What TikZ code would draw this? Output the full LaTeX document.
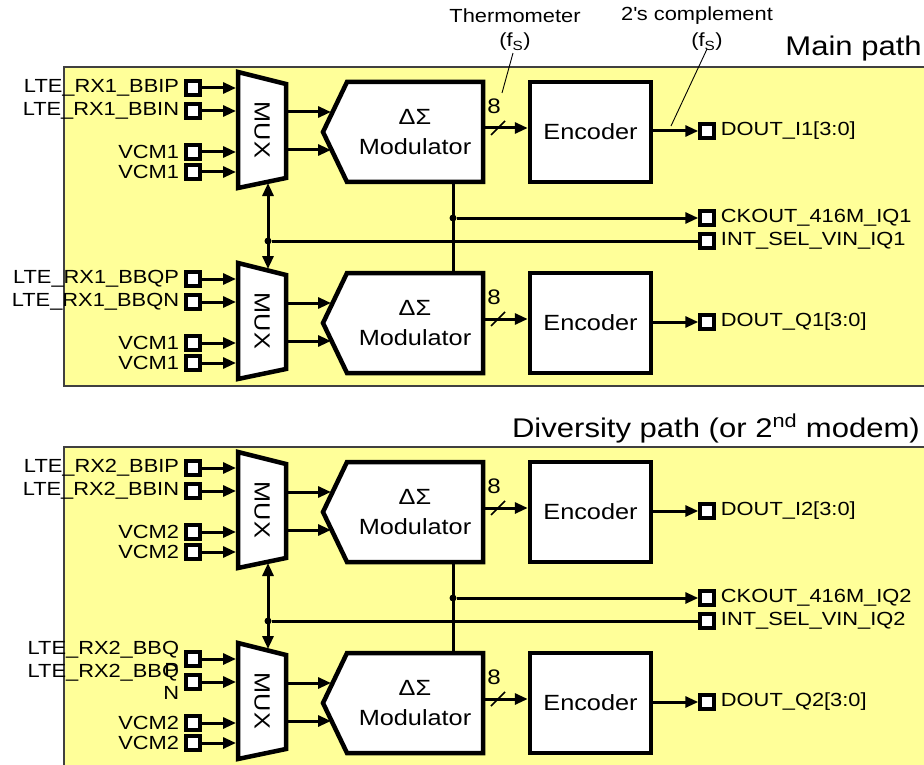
\documentclass[tikz,border=0pt]{standalone}
\usepackage{fontspec}
\setmainfont[FakeStretch=1.15]{Liberation Sans}
\usetikzlibrary{arrows.meta}
\definecolor{panelyellow}{HTML}{FFFF99}
\definecolor{panelborder}{HTML}{404040}
\newcommand{\pinfont}{\fontsize{19}{22}\selectfont}
\newcommand{\blockfont}{\fontsize{22}{30}\selectfont}
\newcommand{\titlefont}{\fontsize{27}{32}\selectfont}
\tikzset{
  pin/.style={rectangle, draw=black, fill=white, line width=4pt, minimum size=13.5pt, inner sep=0pt},
  lbl/.style={font=\pinfont, inner sep=0pt, align=right},
  lblr/.style={font=\pinfont, inner sep=0pt, align=left},
  conn/.style={line width=3pt},
  arr/.style={-{Triangle[length=13pt,width=11pt]}},
  darr/.style={{Triangle[length=13pt,width=11pt]}-{Triangle[length=13pt,width=11pt]}},
  blk/.style={draw=black, fill=white, line width=4.5pt, line join=miter},
  panel/.style={fill=panelyellow, draw=panelborder, line width=1.2pt},
  dot/.style={circle, fill=black, inner sep=0pt, minimum size=7pt},
  leader/.style={line width=0.9pt},
  busslash/.style={line width=1.6pt}
}
% #1 offset, #2 prefix, #3-#6 input labels, #7 output label
\newcommand{\adcgroup}[7]{%
\begin{scope}[shift={(0,#1)}]
  \node[pin] (#2pa) at (193,88) {};
  \node[pin] (#2pb) at (193,111) {};
  \node[pin] (#2pc) at (193,152) {};
  \node[pin] (#2pd) at (193,172) {};
  \node[lbl,anchor=east] (#2la) at ([xshift=-5pt]#2pa.west) {#3};
  \node[lbl,anchor=east] (#2lb) at ([xshift=-5pt]#2pb.west) {#4};
  \node[lbl,anchor=east] (#2lc) at ([xshift=-5pt]#2pc.west) {#5};
  \node[lbl,anchor=east] (#2ld) at ([xshift=-5pt]#2pd.west) {#6};
  \draw[blk] (238,72) -- (286,84) -- (286,178) -- (238,188) -- cycle;
  \node[font=\blockfont, rotate=-90, inner sep=0pt] (#2mux) at (262,130) {MUX};
  \coordinate (#2mia) at (236,88);
  \coordinate (#2mib) at (236,111);
  \coordinate (#2mic) at (236,152);
  \coordinate (#2mid) at (236,172);
  \draw[conn,arr] (#2pa.east) -- (#2mia);
  \draw[conn,arr] (#2pb.east) -- (#2mib);
  \draw[conn,arr] (#2pc.east) -- (#2mic);
  \draw[conn,arr] (#2pd.east) -- (#2mid);
  \coordinate (#2muxb) at (268,183);
  \coordinate (#2muxt) at (268,78);
  \draw[blk] (347,82) -- (483,82) -- (483,182) -- (347,182) -- (323,132) -- cycle;
  \node[font=\blockfont, align=center, inner sep=0pt] (#2mod) at (415,132) {ΔΣ\\Modulator};
  \coordinate (#2moa) at (288,112);
  \coordinate (#2mob) at (288,150);
  \coordinate (#2mda) at (331,112);
  \coordinate (#2mdb) at (331,150);
  \draw[conn,arr] (#2moa) -- (#2mda);
  \draw[conn,arr] (#2mob) -- (#2mdb);
  \coordinate (#2ckb) at (453,184);
  \coordinate (#2ckt) at (453,80);
  \node[blk, minimum width=121pt, minimum height=100pt, font=\blockfont] (#2enc) at (590.5,132) {Encoder};
  \coordinate (#2mo) at (485,128);
  \draw[conn,arr] (#2mo) -- (#2enc.west |- #2mo);
  \draw[busslash] (491,135) -- (505,121);
  \node[font=\fontsize{21}{24}\selectfont, inner sep=0pt] (#2bw) at (494,106) {8};
  \node[pin] (#2out) at (707,131) {};
  \draw[conn,arr] (#2enc.east |- #2out) -- (#2out.west);
  \node[lblr,anchor=west] (#2lo) at ([xshift=5pt]#2out.east) {#7};
\end{scope}}
% #1 offset, #2 upper prefix, #3 lower prefix
\newcommand{\adcclock}[3]{%
\begin{scope}[shift={(0,#1)}]
  \draw[conn] (#2ckb) -- (#3ckt);
  \node[dot] (ck#2) at (453,218) {};
  \node[pin] (ckp#2) at (707,218) {};
  \draw[conn,arr] (ck#2) -- (ckp#2.west);
  \node[dot] (is#2) at (268,241) {};
  \node[pin] (isp#2) at (707,241) {};
  \draw[conn] (is#2) -- (isp#2.west);
  \draw[conn,darr] (#2muxb) -- (#3muxt);
\end{scope}}
\begin{document}
\begin{tikzpicture}[x=1pt,y=-1pt]
\useasboundingbox (0,0) rectangle (924,765);
\clip (0,0) rectangle (924,765);
\fill[white] (0,0) rectangle (924,765);
% panels
\draw[panel] (64,67) rectangle (940,386);
\draw[panel] (64,447) rectangle (940,790);
\node[font=\titlefont, anchor=base east, inner sep=0pt] (t1) at (922,56) {Main path};
\node[font=\titlefont, anchor=base east, inner sep=0pt] (t2) at (920,437) {Diversity path (or 2\textsuperscript{nd} modem)};
% top annotations
\node[font=\pinfont, inner sep=0pt] (th1) at (515,16) {Thermometer};
\node[font=\pinfont, inner sep=0pt] (th2) at (515,42) {(f\textsubscript{S})};
\node[font=\pinfont, inner sep=0pt] (tc1) at (697,16) {2\textquotesingle s complement};
\node[font=\pinfont, inner sep=0pt] (tc2) at (707,42) {(f\textsubscript{S})};
\coordinate (thx) at (502,93);
\coordinate (tcx) at (671,126);
% groups
\adcgroup{0}{a}{LTE\_RX1\_BBIP}{LTE\_RX1\_BBIN}{VCM1}{VCM1}{DOUT\_I1[3:0]}
\adcgroup{191}{b}{LTE\_RX1\_BBQP}{LTE\_RX1\_BBQN}{VCM1}{VCM1}{DOUT\_Q1[3:0]}
\adcgroup{380}{c}{LTE\_RX2\_BBIP}{LTE\_RX2\_BBIN}{VCM2}{VCM2}{DOUT\_I2[3:0]}
\adcgroup{571}{d}{LTE\_RX2\_BBQ\\P}{LTE\_RX2\_BBQ\\N}{VCM2}{VCM2}{DOUT\_Q2[3:0]}
\adcclock{0}{a}{b}
\adcclock{380}{c}{d}
\node[lblr,anchor=west] (ckl1) at ([xshift=5pt]ckpa.east) {CKOUT\_416M\_IQ1};
\node[lblr,anchor=west] (isl1) at ([xshift=5pt]ispa.east) {INT\_SEL\_VIN\_IQ1};
\node[lblr,anchor=west] (ckl2) at ([xshift=5pt]ckpc.east) {CKOUT\_416M\_IQ2};
\node[lblr,anchor=west] (isl2) at ([xshift=5pt]ispc.east) {INT\_SEL\_VIN\_IQ2};
\draw[leader] (th2.south) ++(-2,2) -- (thx);
\draw[leader] ([yshift=2pt]tc2.south) -- (tcx);
\end{tikzpicture}
\end{document}
